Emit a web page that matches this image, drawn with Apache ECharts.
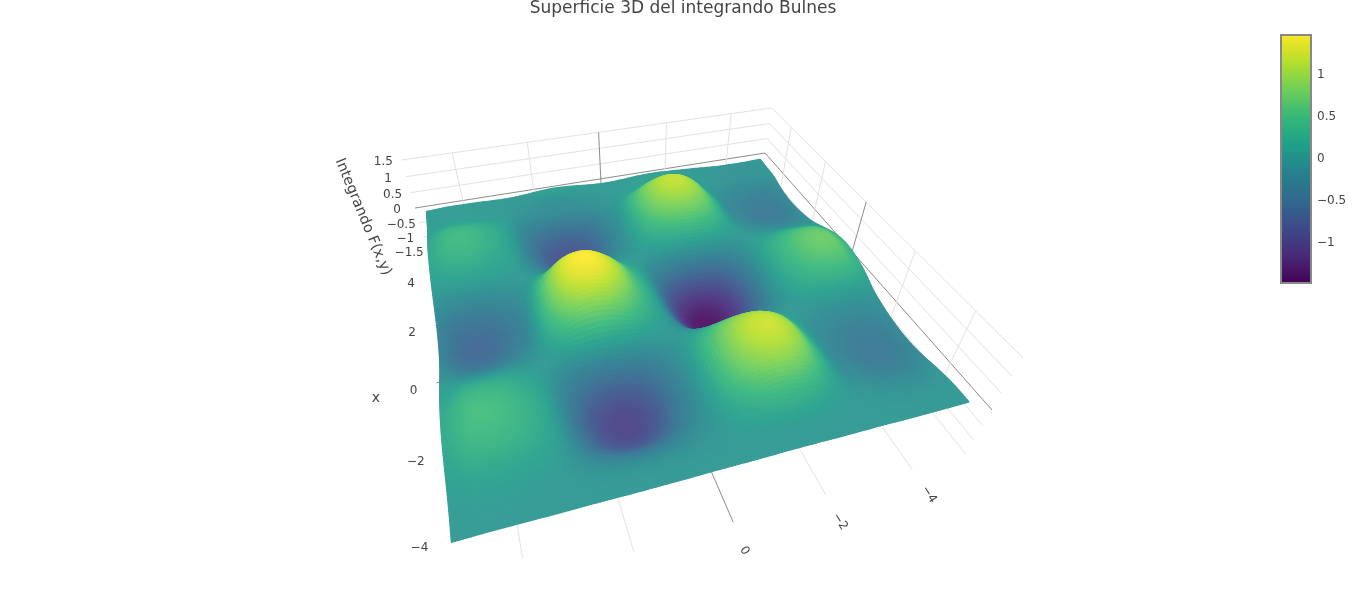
<!DOCTYPE html>
<html><head><meta charset="utf-8">
<style>html,body{margin:0;padding:0;background:#fff}#c{width:1366px;height:599px}</style>
<script src="https://cdn.jsdelivr.net/npm/echarts@6/dist/echarts.min.js"></script>
</head><body><div id="c"></div>
<script>
const titleText = 'Superficie 3D del integrando Bulnes';
const zTitle = 'Integrando F(x,y)';
const xTitle = 'x';
const xTicks = [4, 2, 0, -2, -4];
const yTicks = [4, 2, 0, -2, -4];
const zTicks = [1.5, 1, 0.5, 0, -0.5, -1, -1.5];
const barTicks = [1, 0.5, 0, -0.5, -1];
const xValues = [5,4.5,4,3.5,3,2.5,2,1.5,1,0.5,0,-0.5,-1,-1.5,-2,-2.5,-3,-3.5,-4,-4.5,-5];
const yValues = [5,4.5,4,3.5,3,2.5,2,1.5,1,0.5,0,-0.5,-1,-1.5,-2,-2.5,-3,-3.5,-4,-4.5,-5];
// surface heights: one row per x value, one column per y value
const zValues = [
[.02,.05,.05,.04,.02,.03,.08,.12,.1,.05,.02,.04,.08,.1,.08,.05,.02,-.02,-.03,-.03,-.01],
[.03,.05,.06,.03,.01,-.02,-.08,-.1,-.08,-.02,.01,.05,.12,.15,.1,.03,0,-.04,-.06,-.06,-.03],
[.06,.12,.13,.09,.03,-.10,-.19,-.23,-.19,-.10,0,.17,.29,.32,.25,.11,-.02,-.08,-.11,-.10,-.05],
[.15,.32,.33,.24,.08,-.27,-.53,-.62,-.53,-.27,0,.47,.79,.87,.69,.29,-.07,-.20,-.28,-.28,-.15],
[.21,.43,.45,.32,.10,-.36,-.71,-.83,-.71,-.36,0,.63,1.06,1.17,.92,.39,-.09,-.27,-.38,-.37,-.20],
[.20,.42,.43,.31,.09,-.35,-.68,-.81,-.68,-.35,0,.61,1.03,1.13,.89,.38,-.09,-.27,-.37,-.36,-.19],
[.14,.29,.30,.21,.07,-.24,-.47,-.55,-.47,-.24,0,.42,.70,.77,.61,.26,-.06,-.18,-.25,-.25,-.13],
[.04,.08,.09,.06,.02,-.06,-.12,-.14,-.12,-.06,0,.10,.17,.19,.15,.06,-.01,-.04,-.06,-.06,-.03],
[-.10,-.21,-.22,-.16,-.05,.27,.50,.55,.43,.20,0,-.28,-.48,-.53,-.42,-.18,.06,.19,.27,.26,.14],
[-.22,-.45,-.47,-.34,-.10,.58,1.08,1.17,.92,.44,0,-.62,-1.05,-1.15,-.90,-.38,.13,.42,.58,.56,.30],
[-.27,-.55,-.58,-.43,-.13,.72,1.34,1.46,1.14,.54,0,-.76,-1.30,-1.43,-1.12,-.48,.17,.52,.72,.70,.38],
[-.25,-.51,-.54,-.39,-.12,.66,1.23,1.34,1.05,.50,0,-.70,-1.19,-1.31,-1.03,-.44,.15,.48,.67,.64,.34],
[-.15,-.31,-.33,-.24,-.07,.41,.76,.83,.65,.31,0,-.43,-.73,-.81,-.63,-.27,.10,.30,.40,.40,.21],
[0,-.01,-.01,0,0,.02,.02,.03,.02,.01,0,-.01,-.01,-.01,0,0,0,.01,.01,.01,.01],
[.13,.27,.29,.21,.06,-.24,-.48,-.56,-.48,-.24,0,.37,.63,.69,.55,.23,-.05,-.16,-.22,-.21,-.11],
[.21,.45,.46,.34,.10,-.39,-.77,-.91,-.77,-.39,0,.60,1.03,1.13,.89,.37,-.08,-.25,-.35,-.35,-.18],
[.23,.48,.50,.37,.11,-.43,-.84,-.99,-.84,-.43,0,.65,1.12,1.23,.97,.41,-.09,-.28,-.39,-.38,-.20],
[.18,.39,.41,.30,.09,-.34,-.68,-.80,-.68,-.34,0,.53,.90,.99,.78,.33,-.07,-.22,-.31,-.30,-.16],
[.09,.18,.19,.14,.04,-.16,-.31,-.37,-.31,-.16,0,.24,.42,.46,.36,.15,-.03,-.10,-.14,-.14,-.07],
[.03,.05,.05,.03,.01,-.03,-.05,-.06,-.05,-.03,0,.04,.07,.08,.06,.02,0,-.02,-.03,-.02,-.01],
[.01,.02,.02,.01,.01,.01,0,0,0,.01,.01,.01,.02,.02,.01,.01,.01,0,0,0,0]
];
const zMin = -1.48, zMax = 1.47;
const viridis = ['#440154','#482878','#3e4989','#31688e','#26828e','#1f9e89','#35b779','#6ece58','#b5de2b','#fde725'];

/* ---------- camera: perspective map fitted to the box corners of the picture ---------- */
const R = 5.3;            // half-size of the axis box
const camK = -0.03363, vanX = 640, vanY = 1000;
const corners = [[765,153],[992,410],[433.5,565],[415,208]];
const H = (function(){
  const [p0,p1,p2,p3] = corners;
  const dx1=p1[0]-p2[0], dy1=p1[1]-p2[1], dx2=p3[0]-p2[0], dy2=p3[1]-p2[1];
  const sx=p0[0]-p1[0]+p2[0]-p3[0], sy=p0[1]-p1[1]+p2[1]-p3[1];
  const det=dx1*dy2-dx2*dy1;
  const g=(sx*dy2-dx2*sy)/det, h=(dx1*sy-sx*dy1)/det;
  return {a:p1[0]-p0[0]+g*p1[0], b:p3[0]-p0[0]+h*p3[0], c:p0[0],
          d:p1[1]-p0[1]+g*p1[1], e:p3[1]-p0[1]+h*p3[1], f:p0[1], g:g, h:h};
})();
function project(x,y,z){
  const a=(R-x)/(2*R), b=(y+R)/(2*R), kz=camK*z;
  const w=H.g*a+H.h*b+1+kz;
  return [(H.a*a+H.b*b+H.c+vanX*kz)/w, (H.d*a+H.e*b+H.f+vanY*kz)/w];
}

/* ---------- surface sampling and colour (drawing only) ---------- */
const NR=zValues.length, NC=zValues[0].length, SUB=8;
function cr(a,b,c,d,t){return 0.5*(2*b+(c-a)*t+(2*a-5*b+4*c-d)*t*t+(3*b-a-3*c+d)*t*t*t);}
function zAt(i,j,u,v){
  const col=[];
  for(let m=-1;m<=2;m++){
    const r=zValues[Math.min(NR-1,Math.max(0,i+m))];
    col.push(cr(r[Math.max(0,j-1)],r[j],r[Math.min(NC-1,j+1)],r[Math.min(NC-1,j+2)],v));
  }
  return cr(col[0],col[1],col[2],col[3],u);
}
const vir=viridis.map(h=>[parseInt(h.slice(1,3),16),parseInt(h.slice(3,5),16),parseInt(h.slice(5,7),16)]);
function shade(z,m){
  let t=(z-zMin)/(zMax-zMin)*(vir.length-1); t=Math.max(0,Math.min(vir.length-1.0001,t));
  const k=Math.floor(t), f=t-k, sp=0.10*(0.65+0.35*m);
  const ch=n=>{const c=vir[k][n]+(vir[k+1][n]-vir[k][n])*f; return Math.round(c+(255-c)*sp);};
  return 'rgb('+ch(0)+','+ch(1)+','+ch(2)+')';
}
// painter order: farthest cells from the camera foot are drawn first
const camS=0.157*(NC-1), camT=1.584*(NR-1);
const cells=[];
for(let i=0;i<NR-1;i++)for(let j=0;j<NC-1;j++)cells.push([i,j]);
cells.sort((p,q)=>Math.hypot(q[0]+.5-camT,q[1]+.5-camS)-Math.hypot(p[0]+.5-camT,p[1]+.5-camS));
const subs=[];
for(let a=0;a<SUB;a++)for(let b=0;b<SUB;b++)subs.push([a,b]);

function renderCell(params,api){
  const i=api.value(0), j=api.value(1), kids=[];
  const order=subs.slice().sort((p,q)=>
    Math.hypot(i+(q[0]+.5)/SUB-camT,j+(q[1]+.5)/SUB-camS)-Math.hypot(i+(p[0]+.5)/SUB-camT,j+(p[1]+.5)/SUB-camS));
  const dx=xValues[i]-xValues[i+1], dy=yValues[j]-yValues[j+1];
  for(const [a,b] of order){
    const u0=a/SUB,u1=(a+1)/SUB,v0=b/SUB,v1=(b+1)/SUB;
    const z00=zAt(i,j,u0,v0), z01=zAt(i,j,u0,v1), z11=zAt(i,j,u1,v1), z10=zAt(i,j,u1,v0);
    const px=u=>xValues[i]-dx*u, py=v=>yValues[j]-dy*v;
    const pts=[project(px(u0),py(v0),z00),project(px(u0),py(v1),z01),project(px(u1),py(v1),z11),project(px(u1),py(v0),z10)].map(p=>api.coord(p));
    const gx=((z10+z11)-(z00+z01))/2/(dx/SUB)*(10.6/3), gy=((z01+z11)-(z00+z10))/2/(dy/SUB)*(10.6/3);
    const m=1/Math.sqrt(1+gx*gx+gy*gy);
    const col=shade((z00+z01+z11+z10)/4,m);
    kids.push({type:'polygon',shape:{points:pts},style:{fill:col,stroke:col,lineWidth:1.2,lineJoin:'round'},silent:true});
  }
  return {type:'group',children:kids};
}

/* ---------- the axis box ---------- */
const GRID='#e2e2e2', ZERO='#8c8c8c';
const boxLines=[];
function addLine(f,t,zero){boxLines.push({f:f,t:t,c:zero?ZERO:GRID});}
for(const z of zTicks){
  addLine([R,R,z],[R,-R,z],z===0);      // back wall
  addLine([R,-R,z],[-R,-R,z],z===0);    // right wall
}
for(const y of yTicks){
  addLine([R,y,-1.5],[R,y,1.5],y===0);
  addLine([R,y,-1.5],[-R,y,-1.5],y===0);
}
for(const x of xTicks){
  addLine([x,-R,-1.5],[x,-R,1.5],x===0);
  addLine([x,-R,-1.5],[x,R,-1.5],x===0);
}
function renderBoxLine(params,api){
  const l=boxLines[params.dataIndex];
  const a=api.coord(project.apply(null,l.f)), b=api.coord(project.apply(null,l.t));
  return {type:'line',shape:{x1:a[0],y1:a[1],x2:b[0],y2:b[1]},style:{stroke:l.c,lineWidth:1},silent:true,
    clipPath:{type:'rect',shape:{x:0,y:0,width:1366,height:558.5}}};
}
const TXT='#444';
const boxTexts=[];
for(const z of zTicks){const p=project(R,R,z);boxTexts.push({s:String(z),x:p[0]-18,y:p[1]+2,r:0,fs:12});}
for(const x of xTicks){const p=project(x,R,-1.5);boxTexts.push({s:String(x),x:p[0]-23+x*1.25,y:p[1]+8.5-x*.6,r:0,fs:12});}
for(const y of yTicks){
  const q=project(-5.9,y,-1.5);
  if(q[1]<560) boxTexts.push({s:String(y),x:q[0]-1,y:q[1],r:-1.0,fs:12});}
boxTexts.push({s:zTitle,x:363,y:217,r:-1.176,fs:14.5});
boxTexts.push({s:xTitle,x:376,y:398,r:0,fs:14});
function renderBoxText(params,api){
  const t=boxTexts[params.dataIndex], c=api.coord([t.x,t.y]);
  return {type:'text',x:c[0],y:c[1],rotation:t.r,silent:true,
    style:{text:t.s.replace(/-/g,'\u2212'),align:'center',verticalAlign:'middle',fontFamily:'DejaVu Sans',fontSize:t.fs,fill:TXT}};
}
function renderBar(params,api){
  const a=api.coord([0,zMax]), b=api.coord([1,zMin]);
  return {type:'rect',shape:{x:a[0],y:a[1],width:b[0]-a[0],height:b[1]-a[1]},silent:true,
    style:{stroke:'#888',lineWidth:2,fill:new echarts.graphic.LinearGradient(0,1,0,0,
      viridis.map((c,i)=>({offset:i/(viridis.length-1),color:c})))}};
}

const chart=echarts.init(document.getElementById('c'),null,{renderer:'canvas'});
chart.setOption({
  animation:false,
  backgroundColor:'#fff',
  title:{text:titleText,left:'center',top:0,padding:0,textStyle:{fontFamily:'DejaVu Sans',fontSize:17,fontWeight:'normal',color:TXT}},
  grid:[{left:0,top:0,width:1366,height:599,show:false},{left:1281,top:35,width:30,height:248,show:false}],
  xAxis:[{gridIndex:0,type:'value',min:0,max:1366,show:false},{gridIndex:1,type:'value',min:0,max:1,show:false}],
  yAxis:[{gridIndex:0,type:'value',min:0,max:599,inverse:true,show:false},
    {gridIndex:1,type:'value',min:zMin,max:zMax,position:'right',splitLine:{show:false},
     axisLine:{show:false},
     axisTick:{show:true,length:4,customValues:barTicks,lineStyle:{color:'#444'}},
     axisLabel:{customValues:barTicks,margin:6,fontFamily:'DejaVu Sans',fontSize:12,color:TXT,
       formatter:v=>String(v).replace('-','\u2212')}}],
  series:[
    {type:'custom',xAxisIndex:0,yAxisIndex:0,z:1,silent:true,clip:false,coordinateSystem:'cartesian2d',progressive:0,data:boxLines.map((l,i)=>[i,0]),renderItem:renderBoxLine},
    {type:'custom',xAxisIndex:0,yAxisIndex:0,z:2,silent:true,clip:false,coordinateSystem:'cartesian2d',progressive:0,data:cells,renderItem:renderCell},
    {type:'custom',xAxisIndex:0,yAxisIndex:0,z:3,silent:true,clip:false,coordinateSystem:'cartesian2d',progressive:0,data:boxTexts.map((l,i)=>[i,0]),renderItem:renderBoxText},
    {type:'custom',xAxisIndex:1,yAxisIndex:1,z:3,silent:true,clip:false,coordinateSystem:'cartesian2d',data:[[0,0]],renderItem:renderBar}
  ]
});
</script></body></html>
